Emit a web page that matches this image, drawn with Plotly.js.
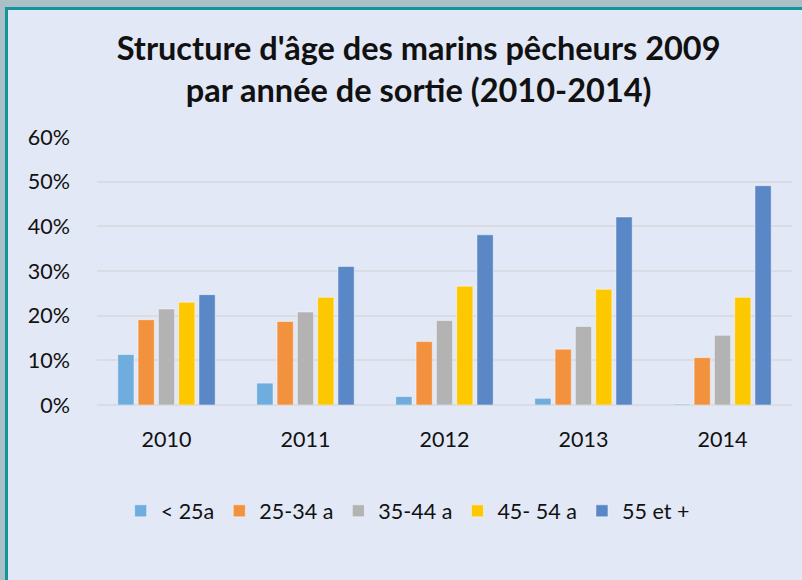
<!DOCTYPE html>
<html>
<head>
<meta charset="utf-8">
<script src="https://cdn.plot.ly/plotly-3.0.1.min.js"></script>
<style>
  html, body { margin: 0; padding: 0; width: 802px; height: 580px; overflow: hidden; background: #abbfc6; }
  #frame { position: absolute; left: 5px; top: 7px; width: 820px; height: 600px; background: #e2e8f5; border-left: 3px solid #13939b; border-top: 3px solid #13939b; }
  #chart { position: absolute; left: 0; top: 0; width: 802px; height: 580px; }
</style>
</head>
<body>
<div id="frame"></div>
<div id="chart"></div>
<script>
const years = ['2010', '2011', '2012', '2013', '2014'];
const seriesNames = ['< 25a', '25-34 a', '35-44 a', '45- 54 a', '55 et +'];
const under25 = [0.113, 0.049, 0.019, 0.015, 0.002];
const age25_34 = [0.191, 0.187, 0.142, 0.125, 0.106];
const age35_44 = [0.215, 0.208, 0.189, 0.176, 0.156];
const age45_54 = [0.230, 0.241, 0.266, 0.259, 0.241];
const age55plus = [0.247, 0.310, 0.381, 0.421, 0.491];
const colors = ['#6eaddd', '#f2923f', '#b3b3b3', '#fec800', '#5a87c5'];

const allSeries = [under25, age25_34, age35_44, age45_54, age55plus];
const font = "'Lato', 'Open Sans', sans-serif";

const data = allSeries.map((vals, i) => ({
  type: 'bar',
  name: seriesNames[i],
  x: years,
  y: vals,
  marker: { color: colors[i], line: { color: 'rgba(255,255,255,0.45)', width: 1 } },
  hoverinfo: 'x+y+name'
}));

const layout = {
  width: 802, height: 580,
  paper_bgcolor: 'rgba(0,0,0,0)',
  plot_bgcolor: 'rgba(0,0,0,0)',
  margin: { l: 97, r: 10, t: 137, b: 175 },
  title: {
    text: "<b>Structure d'âge des marins pêcheurs 2009<br>par année de sortie (2010-2014)</b>",
    font: { family: font, size: 32.5, color: '#111' },
    x: 0.522, xanchor: 'center', y: 0.897, yanchor: 'middle', yref: 'container'
  },
  barmode: 'group',
  bargap: 0.27,
  bargroupgap: 0.2,
  xaxis: {
    type: 'category',
    tickfont: { family: font, size: 21.5, color: '#111' },
    showgrid: false, zeroline: false, showline: false,
    ticks: '', ticklabelstandoff: 19
  },
  yaxis: {
    range: [0, 0.6],
    dtick: 0.1,
    tickformat: '.0%',
    tickfont: { family: font, size: 21.5, color: '#111' },
    showgrid: true, gridcolor: '#d9dce3', gridwidth: 2,
    zeroline: true, zerolinecolor: '#d9dce3', zerolinewidth: 2,
    showline: false, ticks: '', ticklabelstandoff: 26
  },
  showlegend: true,
  legend: {
    orientation: 'h',
    x: 0.447, xanchor: 'center',
    y: -0.395, yanchor: 'middle',
    font: { family: font, size: 21.5, color: '#111' },
    bgcolor: 'rgba(0,0,0,0)',
    itemwidth: 30,
    traceorder: 'normal'
  }
};

Plotly.newPlot('chart', data, layout, { displayModeBar: false, staticPlot: true });
</script>
</body>
</html>
